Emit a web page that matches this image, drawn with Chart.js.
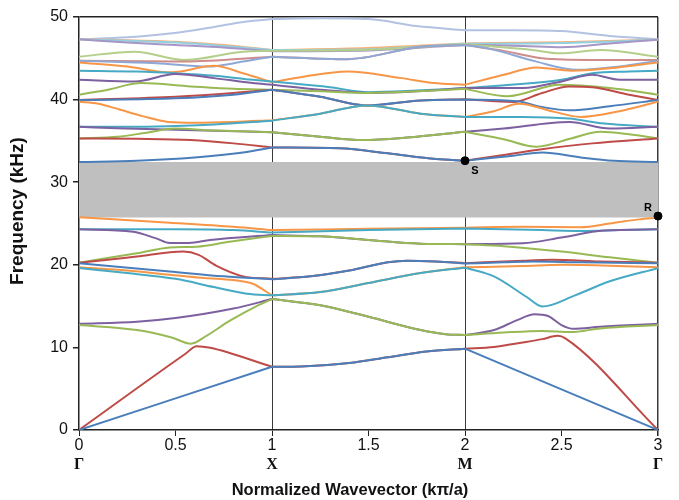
<!DOCTYPE html>
<html>
<head>
<meta charset="utf-8">
<script src="https://cdn.jsdelivr.net/npm/chart.js@4.4.1/dist/chart.umd.min.js"></script>
<style>
  html, body { margin: 0; padding: 0; background: #fff; }
  #wrap { width: 679px; height: 500px; }
</style>
</head>
<body>
<div id="wrap"><canvas id="bands" width="679" height="500"></canvas></div>
<script>
// --- band structure, [k, f(kHz)] ---
const band01 = [[0, 0], [1, 7.65], [1.15, 7.7], [1.4, 8.1], [1.6, 8.8], [1.8, 9.5], [2, 9.85], [3, 0]];
const band02 = [[0, 0], [0.55, 9.2], [0.61, 10.15], [0.68, 9.95], [1, 7.65], [1.15, 7.7], [1.4, 8.1], [1.6, 8.8], [1.8, 9.5], [2, 9.85], [2.15, 10.05], [2.3, 10.6], [2.4, 11.0], [2.48, 11.4], [2.52, 11.1], [3, 0]];
const band03 = [[0, 12.7], [0.3, 12.1], [0.48, 11.2], [0.58, 10.45], [0.66, 11.4], [0.78, 13.2], [0.92, 15.0], [1, 15.85], [1.25, 15.1], [1.5, 13.7], [1.77, 12.1], [1.9, 11.6], [2, 11.5], [2.2, 11.8], [2.4, 12.0], [2.55, 11.85], [2.7, 12.3], [3, 12.7]];
const band04 = [[0, 12.85], [0.3, 13.1], [0.5, 13.55], [0.8, 14.7], [1, 15.85], [1.25, 15.1], [1.5, 13.7], [1.77, 12.1], [1.9, 11.6], [2, 11.5], [2.15, 12.1], [2.27, 13.3], [2.36, 14.0], [2.43, 13.8], [2.5, 12.7], [2.56, 12.25], [2.7, 12.5], [3, 12.85]];
const band05 = [[0, 19.6], [0.25, 19.0], [0.5, 18.3], [0.7, 17.3], [0.87, 16.5], [1, 16.3], [1.25, 16.7], [1.5, 17.8], [1.77, 19.0], [2, 19.65], [2.15, 18.6], [2.32, 16.1], [2.4, 14.95], [2.57, 16.3], [2.75, 18.0], [3, 19.6]];
const band06 = [[0, 19.7], [0.25, 19.3], [0.47, 18.8], [0.65, 18.4], [0.8, 18.15], [0.9, 17.7], [1, 16.3], [1.25, 16.7], [1.5, 17.8], [1.77, 19.0], [2, 19.7], [2.3, 19.85], [2.5, 20.0], [2.75, 19.9], [3, 19.7]];
const band07 = [[0, 20.2], [0.47, 19.2], [0.75, 18.6], [1, 18.25], [1.2, 18.6], [1.4, 19.3], [1.6, 20.3], [1.7, 20.5], [1.85, 20.4], [2, 20.15], [2.2, 20.3], [2.35, 20.4], [2.6, 20.3], [3, 20.2]];
const band08 = [[0, 20.25], [0.15, 20.6], [0.3, 21.0], [0.54, 21.6], [0.62, 21.2], [0.71, 19.9], [0.85, 18.6], [1, 18.3], [1.2, 18.6], [1.4, 19.3], [1.6, 20.3], [1.7, 20.5], [1.85, 20.4], [2, 20.2], [2.3, 20.5], [2.45, 20.6], [2.7, 20.4], [3, 20.25]];
const band09 = [[0, 20.25], [0.3, 21.4], [0.47, 22.1], [0.61, 22.2], [0.78, 22.8], [1, 23.5], [1.25, 23.45], [1.5, 23.0], [1.77, 22.55], [2, 22.5], [2.2, 22.25], [2.5, 21.6], [2.75, 20.9], [3, 20.25]];
const band10 = [[0, 24.3], [0.28, 24.0], [0.4, 23.2], [0.47, 22.65], [0.57, 22.65], [0.68, 23.0], [1, 23.6], [1.25, 23.45], [1.5, 23.0], [1.77, 22.55], [2, 22.5], [2.3, 22.6], [2.5, 23.3], [2.72, 24.15], [3, 24.3]];
const band11 = [[0, 24.3], [0.5, 24.3], [0.8, 24.2], [1, 23.9], [1.5, 24.2], [2, 24.4], [2.4, 24.2], [2.6, 24.1], [2.8, 24.2], [3, 24.3]];
const band12 = [[0, 25.75], [0.47, 25.1], [0.8, 24.6], [1, 24.2], [1.5, 24.35], [2, 24.5], [2.3, 24.6], [2.6, 24.55], [2.75, 25.0], [2.9, 25.5], [3, 25.7]];
const band13 = [[0, 32.45], [0.3, 32.6], [0.6, 33.0], [0.85, 33.6], [1, 34.2], [1.35, 34.1], [1.6, 33.5], [1.85, 32.8], [2, 32.6], [2.25, 33.2], [2.4, 33.6], [2.6, 33.0], [2.77, 32.6], [3, 32.45]];
const band14 = [[0, 35.3], [0.3, 35.25], [0.58, 35.1], [0.8, 34.7], [1, 34.2], [1.35, 34.1], [1.6, 33.5], [1.85, 32.8], [2, 32.6], [2.2, 33.3], [2.37, 33.9], [2.66, 34.7], [3, 35.3]];
const band15 = [[0, 35.3], [0.2, 35.5], [0.35, 36.0], [0.5, 36.5], [0.67, 36.3], [1, 36.05], [1.25, 35.5], [1.47, 35.1], [1.7, 35.4], [2, 36.1], [2.2, 35.2], [2.37, 34.3], [2.55, 35.3], [2.7, 36.1], [2.85, 35.8], [3, 35.3]];
const band16 = [[0, 36.7], [0.24, 36.5], [0.6, 36.3], [1, 36.05], [1.25, 35.5], [1.47, 35.1], [1.7, 35.4], [2, 36.1], [2.2, 36.5], [2.54, 37.3], [2.75, 36.5], [3, 36.7]];
const band17 = [[0, 36.7], [0.4, 36.75], [0.7, 37.0], [1, 37.45], [1.25, 38.3], [1.49, 39.3], [1.77, 38.3], [2, 37.9], [2.3, 37.9], [2.54, 37.7], [2.72, 37.1], [3, 36.7]];
const band18 = [[0, 39.75], [0.1, 39.5], [0.21, 38.8], [0.33, 38.0], [0.46, 37.3], [0.6, 37.2], [0.8, 37.3], [1, 37.5], [1.25, 38.3], [1.49, 39.3], [1.77, 38.3], [2, 37.9], [2.15, 38.6], [2.28, 39.5], [2.45, 38.6], [2.6, 37.9], [2.8, 38.6], [3, 39.75]];
const band19 = [[0, 39.95], [0.5, 40.15], [0.8, 40.6], [1, 41.2], [1.25, 40.35], [1.49, 39.3], [1.77, 39.9], [2, 40.0], [2.27, 39.8], [2.4, 39.1], [2.54, 38.7], [2.75, 39.2], [3, 39.95]];
const band20 = [[0, 39.95], [0.5, 40.35], [0.8, 40.8], [1, 41.2], [1.25, 40.35], [1.49, 39.3], [1.77, 39.9], [2, 40.05], [2.25, 39.7], [2.4, 40.8], [2.54, 41.6], [2.66, 41.5], [2.85, 40.6], [3, 39.95]];
const band21 = [[0, 40.6], [0.15, 41.2], [0.32, 42.0], [0.58, 41.6], [0.8, 41.3], [1, 41.2], [1.25, 41.0], [1.5, 40.8], [1.75, 41.0], [2, 41.3], [2.22, 40.4], [2.49, 41.8], [2.75, 41.4], [3, 40.6]];
const band22 = [[0, 42.4], [0.29, 42.2], [0.5, 43.1], [0.7, 42.6], [0.9, 42.0], [1, 41.8], [1.25, 41.2], [1.52, 40.8], [1.75, 41.0], [2, 41.4], [2.3, 41.4], [2.5, 42.2], [2.66, 43.0], [2.8, 42.4], [3, 42.4]];
const band23 = [[0, 43.5], [0.3, 43.4], [0.5, 43.2], [0.7, 42.9], [0.9, 42.4], [1, 42.2], [1.3, 41.5], [1.5, 40.9], [1.75, 41.1], [2, 41.4], [2.35, 42.0], [2.5, 42.4], [2.66, 43.2], [2.85, 43.4], [3, 43.5]];
const band24 = [[0, 44.5], [0.25, 44.0], [0.48, 43.3], [0.7, 44.1], [0.85, 43.2], [1, 42.1], [1.17, 42.8], [1.39, 43.4], [1.67, 42.6], [1.84, 42.0], [2, 41.8], [2.2, 43.0], [2.37, 43.9], [2.55, 43.5], [2.75, 43.8], [3, 44.5]];
const band25 = [[0, 44.7], [0.4, 44.4], [0.67, 44.0], [0.85, 44.6], [1, 45.2], [1.39, 44.9], [1.77, 46.4], [2, 46.6], [2.12, 46.2], [2.37, 44.6], [2.58, 43.6], [2.8, 44.0], [3, 44.7]];
const band26 = [[0, 44.7], [0.5, 44.6], [0.75, 44.8], [1, 45.2], [1.39, 44.9], [1.77, 46.4], [2, 46.6], [2.2, 45.9], [2.4, 45.0], [2.66, 44.8], [3, 44.8]];
const band27 = [[0, 45.2], [0.29, 45.8], [0.54, 44.8], [0.85, 45.8], [1, 45.9], [1.5, 46.05], [2, 46.7], [2.35, 46.0], [2.49, 45.6], [2.7, 46.0], [3, 45.2]];
const band28 = [[0, 47.3], [0.25, 46.9], [0.5, 46.6], [0.75, 46.3], [1, 45.85], [1.5, 45.95], [2, 46.65], [2.3, 46.5], [2.5, 46.35], [2.75, 46.8], [3, 47.25]];
const band29 = [[0, 47.3], [0.5, 46.9], [0.8, 46.4], [1, 46.0], [1.5, 46.1], [2, 46.75], [2.5, 46.85], [3, 47.25]];
const band30 = [[0, 47.3], [0.25, 47.2], [0.5, 47.0], [0.75, 46.6], [1, 46.0], [1.5, 46.25], [2, 46.8], [2.5, 46.95], [3, 47.25]];
const band31 = [[0, 47.3], [0.25, 47.55], [0.47, 48.0], [0.7, 48.8], [0.85, 49.4], [1, 49.75], [1.25, 49.85], [1.5, 49.75], [1.75, 48.9], [2, 48.4], [2.25, 48.4], [2.5, 48.3], [2.75, 47.7], [3, 47.3]];

const bands = [band01, band02, band03, band04, band05, band06, band07, band08, band09, band10,
  band11, band12, band13, band14, band15, band16, band17, band18, band19, band20,
  band21, band22, band23, band24, band25, band26, band27, band28, band29, band30, band31];

// band gap (kHz) and marked points
const gapRange = [25.72, 32.45];
const markedK = [2, 3];
const markedF = [32.6, 25.9];
const markedNames = ['S', 'R'];

// x axis: numeric ticks plus symmetry point names
const symmetryK = [0, 1, 2, 3];
const symmetryNames = ['Γ', 'X', 'M', 'Γ'];
const xTitle = 'Normalized Wavevector (kπ/a)';
const yTitle = 'Frequency (kHz)';

const bandColors = [
  '#4A7EBB', '#BE4B48', '#98B954', '#7D60A0', '#46AAC5', '#F79646',
  '#4A7EBB', '#BE4B48', '#98B954', '#7D60A0', '#46AAC5', '#F79646',
  '#4A7EBB', '#BE4B48', '#98B954', '#7D60A0', '#46AAC5', '#F79646',
  '#4A7EBB', '#BE4B48', '#98B954', '#7D60A0', '#46AAC5', '#F79646',
  '#8EA8D6', '#CE8C8A', '#B3CF8A', '#A596C6', '#93D0E0', '#F9AE76', '#B3C2E2'
];

// split each band at X and M so each leg is smoothed by itself
function toPoints(band) {
  const pts = [];
  band.forEach(([k, f], i) => {
    pts.push({ x: k, y: f });
    if (symmetryK.includes(k) && i > 0 && i < band.length - 1) {
      pts.push({ x: k, y: null });
      pts.push({ x: k, y: f });
    }
  });
  return pts;
}

const datasets = bands.map((b, i) => ({
  data: toPoints(b),
  borderColor: bandColors[i],
  borderWidth: 2,
  pointRadius: 0,
  cubicInterpolationMode: 'monotone',
  fill: false,
  order: 2
}));

datasets.push({
  data: [{ x: 0, y: gapRange[1] }, { x: 3, y: gapRange[1] }],
  borderWidth: 0,
  borderColor: 'rgba(0,0,0,0)',
  backgroundColor: '#BFBFBF',
  pointRadius: 0,
  fill: { target: { value: gapRange[0] } },
  order: 10
});

datasets.push({
  data: markedK.map((k, i) => ({ x: k, y: markedF[i] })),
  showLine: false,
  pointRadius: 4,
  pointBackgroundColor: '#000',
  pointBorderColor: '#000',
  clip: false,
  order: 0
});
const markIndex = datasets.length - 1;

const sans = '"Liberation Sans", Arial, sans-serif';

// S / R next to the marked points, and the two axis titles
const extraText = {
  id: 'extraText',
  afterDatasetsDraw(chart) {
    const ctx = chart.ctx;
    const meta = chart.getDatasetMeta(markIndex);
    const shift = [[10, 10], [-10, -8]];
    ctx.save();
    ctx.font = 'bold 11px ' + sans;
    ctx.fillStyle = '#000';
    ctx.textAlign = 'center';
    ctx.textBaseline = 'middle';
    meta.data.forEach((pt, i) => {
      ctx.fillText(markedNames[i], pt.x + shift[i][0], pt.y + shift[i][1]);
    });

    ctx.fillStyle = '#111';
    ctx.font = 'bold 16.5px ' + sans;
    ctx.fillText(xTitle, 350, 490);

    ctx.translate(18, 211);
    ctx.rotate(-Math.PI / 2);
    ctx.font = 'bold 19px ' + sans;
    ctx.fillText(yTitle, 0, 0);
    ctx.restore();
  }
};

new Chart(document.getElementById('bands'), {
  type: 'line',
  data: { datasets },
  plugins: [extraText],
  options: {
    responsive: false,
    animation: false,
    events: [],
    layout: { padding: { left: 0, right: 21, top: 17, bottom: 0 } },
    plugins: {
      legend: { display: false },
      tooltip: { enabled: false },
      filler: { drawTime: 'beforeDatasetsDraw' }
    },
    scales: {
      x: {
        type: 'linear',
        position: 'bottom',
        min: 0,
        max: 3,
        ticks: {
          stepSize: 0.5,
          color: '#111',
          padding: 0,
          maxRotation: 0,
          autoSkip: false,
          callback: v => String(v),
          font: { family: sans, size: 16 }
        },
        grid: {
          color: ctx => (ctx.tick && [1, 2, 3].includes(ctx.tick.value)) ? '#3a3a3a' : 'rgba(0,0,0,0)',
          lineWidth: ctx => (ctx.tick && ctx.tick.value === 3) ? 1.5 : 1,
          tickColor: '#222',
          tickLength: 6
        },
        border: { color: '#222', width: 1.5 },
        afterFit: s => { s.height = 25; }
      },
      x2: {
        type: 'linear',
        position: 'bottom',
        min: 0,
        max: 3,
        afterBuildTicks: s => { s.ticks = symmetryK.map(v => ({ value: v })); },
        ticks: {
          color: '#111',
          padding: 0,
          maxRotation: 0,
          autoSkip: false,
          callback: v => symmetryNames[symmetryK.indexOf(v)],
          font: { family: '"Liberation Serif", "Times New Roman", serif', size: 16, weight: 'bold' }
        },
        grid: { display: false, drawTicks: false },
        border: { display: false },
        afterFit: s => { s.height = 45; }
      },
      y: {
        min: 0,
        max: 50,
        ticks: {
          stepSize: 10,
          color: '#111',
          padding: 5,
          font: { family: sans, size: 16 }
        },
        grid: {
          color: ctx => (ctx.tick && ctx.tick.value === 50) ? '#222' : 'rgba(0,0,0,0)',
          lineWidth: 1.5,
          tickColor: '#222',
          tickLength: 6
        },
        border: { color: '#222', width: 1.5 },
        afterFit: s => { s.width = 79; }
      }
    }
  }
});
</script>
</body>
</html>
